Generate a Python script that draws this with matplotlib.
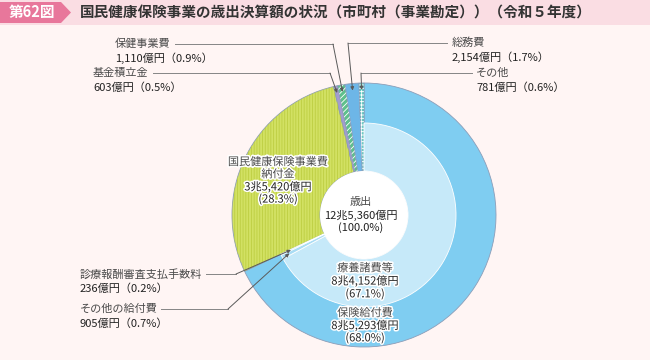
import numpy as np
import matplotlib

matplotlib.use("Agg")
import matplotlib.pyplot as plt
import matplotlib.patheffects as pe
from matplotlib.patches import Circle, Polygon, Rectangle

plt.rcParams["font.family"] = ["Noto Sans CJK JP", "DejaVu Sans"]
plt.rcParams["hatch.linewidth"] = 0.6

# --- data (令和5年度, 市町村 事業勘定 歳出) ---
outer_names = ["保険給付費", "国民健康保険事業費\n納付金", "基金積立金", "保健事業費", "総務費", "その他"]
outer_amounts = ["8兆5,293億円", "3兆5,420億円", "603億円", "1,110億円", "2,154億円", "781億円"]
outer_shares = [68.0, 28.3, 0.5, 0.9, 1.7, 0.6]

inner_names = ["療養諸費等", "その他の給付費", "診療報酬審査支払手数料"]
inner_amounts = ["8兆4,152億円", "905億円", "236億円"]
inner_shares = [67.1, 0.7, 0.2]

total_name = "歳出"
total_amount = "12兆5,360億円"
total_share = 100.0

title = "国民健康保険事業の歳出決算額の状況（市町村（事業勘定））（令和５年度）"
fig_no = "第62図"

# --- layout ---
W, H = 650, 360
cx, cy = 364, H - 215
R, r_mid, r_in = 132, 92, 44

outer_colors = ["#7FCDF1", "#D2E163", "#A49BD0", "#5EC08C", "#6DB6E7", "#5AC8C0"]
outer_hatch = [None, "||||||", None, "//////", None, "+++++"]
hatch_colors = ["none", "#BDCE42", "none", "white", "none", "white"]
inner_colors = ["#C6E9F9", "#A9DCF4", "#8FD2F2"]

NAME_C = "#4a4a4a"
NUM_C = "#222222"
FS = 8.0

fig = plt.figure(figsize=(6.5, 3.6), dpi=100)
fig.patch.set_facecolor("#FFF5F4")
ax = fig.add_axes([0, 0, 1, 1])

wprops = dict(width=R - r_in, edgecolor="#8C9DB8", linewidth=0.6)
ax.pie(outer_shares, radius=R, center=(cx, cy), startangle=90, counterclock=False,
       colors=outer_colors, wedgeprops=wprops)
hatched, _ = ax.pie(outer_shares, radius=R, center=(cx, cy), startangle=90, counterclock=False,
                    wedgeprops=dict(width=R - r_in, linewidth=0, fill=False))
for w, h, c in zip(hatched, outer_hatch, hatch_colors):
    if h is None:
        w.set_visible(False)
        continue
    w.set_hatch(h)
    w.set_edgecolor(c)

rest = 100 - sum(inner_shares)
inner, _ = ax.pie(inner_shares + [rest], radius=r_mid, center=(cx, cy), startangle=90,
                  counterclock=False, colors=inner_colors + ["none"],
                  wedgeprops=dict(width=r_mid - r_in, edgecolor="white", linewidth=0.6))
inner[-1].set_visible(False)
ax.add_patch(Circle((cx, cy), r_in, facecolor="white", edgecolor="none", zorder=3))

ax.set_xlim(0, W)
ax.set_ylim(0, H)
ax.set_aspect("equal")
ax.set_position([0, 0, 1, 1])
ax.axis("off")


def ring_point(start_pct, share, r):
    theta = np.deg2rad(3.6 * (start_pct + share / 2))
    return cx + r * np.sin(theta), cy + r * np.cos(theta)


outer_start = np.concatenate([[0], np.cumsum(outer_shares)[:-1]])
inner_start = np.concatenate([[0], np.cumsum(inner_shares)[:-1]])

halo = [pe.withStroke(linewidth=2.2, foreground="white")]


def text_lines(x, y0, lines, colors, step, ha="left", effects=None):
    for i, (t, c) in enumerate(zip(lines, colors)):
        ax.text(x, H - (y0 + i * step), t, ha=ha, va="center", fontsize=FS, color=c,
                path_effects=effects, zorder=5)


def leader(p0, elbow, end):
    ax.plot([p0[0], elbow[0]], [H - p0[1], H - elbow[1]], color="#858585", lw=0.7, zorder=4)
    ax.annotate("", xy=end, xytext=(elbow[0], H - elbow[1]), zorder=4,
                arrowprops=dict(arrowstyle="-|>", color="#5a5a5a", lw=0.7,
                                mutation_scale=5, shrinkA=0, shrinkB=0))


def share_str(s, wide=True):
    return f"（{s:.1f}%）" if wide else f"({s:.1f}%)"


# outside labels: (index, name xy, line start, elbow)
outer_callouts = [
    (3, (115, 44), (175, 44), (333, 44)),
    (2, (93, 73), (153, 73), (330, 73)),
    (4, (452, 43), (447, 43), (348, 43)),
    (5, (476, 73), (472, 73), (361, 73)),
]
for i, (lx, ly), p0, elbow in outer_callouts:
    text_lines(lx, ly, [outer_names[i], outer_amounts[i] + share_str(outer_shares[i])],
               [NAME_C, NUM_C], 14.5)
    leader(p0, elbow, ring_point(outer_start[i], outer_shares[i], 125))

inner_callouts = [
    (2, (80, 274), (206, 274), (236, 274), 81),
    (1, (80, 309), (161, 309), (228, 309), 84),
]
for i, (lx, ly), p0, elbow, r in inner_callouts:
    text_lines(lx, ly, [inner_names[i], inner_amounts[i] + share_str(inner_shares[i])],
               [NAME_C, NUM_C], 15)
    leader(p0, elbow, ring_point(inner_start[i], inner_shares[i], r))

# labels inside the chart
name_lines = outer_names[1].split("\n")
text_lines(278, 162, name_lines + [outer_amounts[1], share_str(outer_shares[1], False)],
           [NAME_C, NAME_C, NUM_C, NUM_C], 12.4, ha="center", effects=halo)
text_lines(361, 202, [total_name, total_amount, share_str(total_share, False)],
           [NAME_C, NUM_C, NUM_C], 13, ha="center")
text_lines(365, 268, [inner_names[0], inner_amounts[0], share_str(inner_shares[0], False)],
           [NAME_C, NUM_C, NUM_C], 13, ha="center", effects=halo)
text_lines(365, 313, [outer_names[0], outer_amounts[0], share_str(outer_shares[0], False)],
           [NAME_C, NUM_C, NUM_C], 12.5, ha="center", effects=halo)

# title bar
ax.add_patch(Rectangle((0, H - 25), W, 25, facecolor="#FADDE3", edgecolor="none", zorder=1))
ax.add_patch(Polygon([(0, H - 2), (61, H - 2), (71, H - 12.5), (61, H - 23), (0, H - 23)],
                     closed=True, facecolor="#E8779B", edgecolor="none", zorder=2))
ax.text(32, H - 12.5, fig_no, ha="center", va="center", fontsize=10.5, color="white",
        fontweight="bold", zorder=3)
ax.text(80, H - 12.5, title, ha="left", va="center", fontsize=10.5, color="#333333",
        fontweight="bold", zorder=3)

fig.savefig("out.png", dpi=100, facecolor=fig.get_facecolor())
plt.close(fig)
